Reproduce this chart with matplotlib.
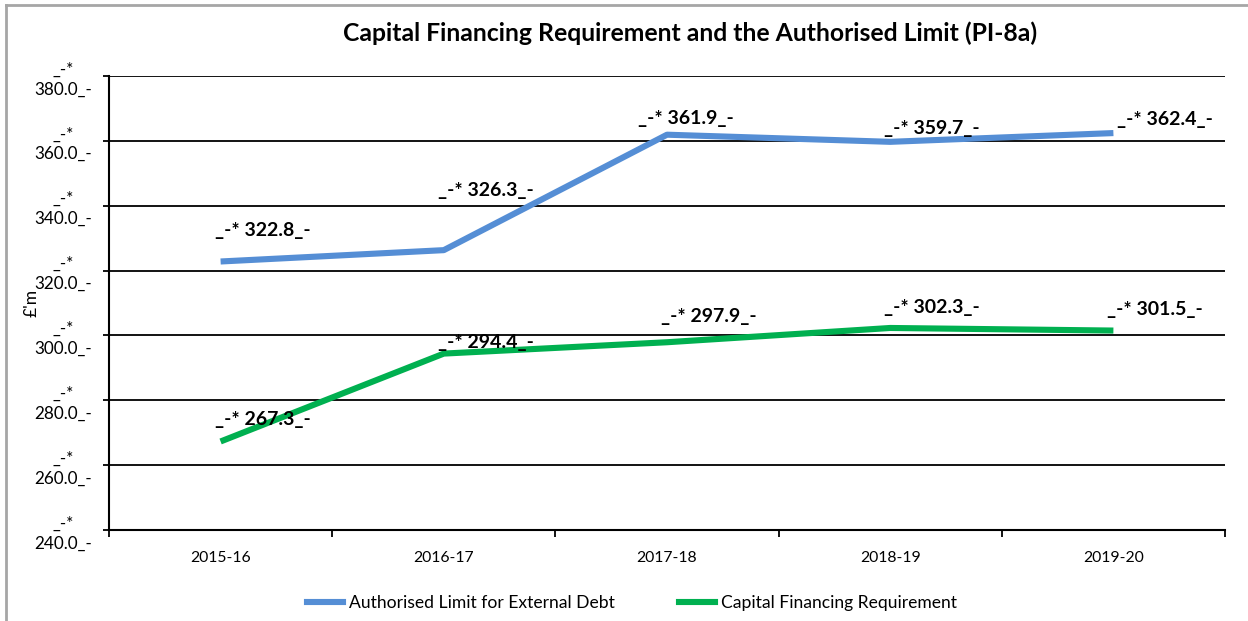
import matplotlib.pyplot as plt
from matplotlib.lines import Line2D

plt.rcParams['font.family'] = ['Lato', 'DejaVu Sans']

years = ['2015-16', '2016-17', '2017-18', '2018-19', '2019-20']
auth_limit = [322.8, 326.3, 361.9, 359.7, 362.4]
cfr = [267.3, 294.4, 297.9, 302.3, 301.5]
y_ticks = [240, 260, 280, 300, 320, 340, 360, 380]

# label offsets in pixels (left edge of label, vertical centre), hand placed like the excel chart
auth_off = [(-6, 31), (-6, 60), (-29, 16), (-6, 13), (4, 14)]
cfr_off = [(-6, 22), (-6, 11), (-6, 26), (-6, 20), (-6, 21)]

blue = '#558ED5'
green = '#00B050'

fig = plt.figure(figsize=(12.48, 6.21), dpi=100)
ax = fig.add_axes([109 / 1248, 1 - 530 / 621, 1116 / 1248, 454 / 621])

x = list(range(len(years)))
ax.plot(x, auth_limit, color=blue, lw=4.4, solid_capstyle='butt', zorder=3)
ax.plot(x, cfr, color=green, lw=4.4, solid_capstyle='butt', zorder=3)

for xi, v, off in zip(x, auth_limit, auth_off):
    ax.annotate(f'_-* {v:.1f}_-', (xi, v), xytext=off, textcoords='offset pixels',
                ha='left', va='center', fontsize=14, fontweight='bold', zorder=4)
for xi, v, off in zip(x, cfr, cfr_off):
    ax.annotate(f'_-* {v:.1f}_-', (xi, v), xytext=off, textcoords='offset pixels',
                ha='left', va='center', fontsize=14, fontweight='bold', zorder=4)

ax.set_xlim(-0.5, len(years) - 0.5)
ax.set_ylim(240, 380)
ax.set_yticks(y_ticks)
ax.set_yticklabels([f'_-*\n{t:.1f}_-' for t in y_ticks], fontsize=12.3,
                   multialignment='center', linespacing=1.3)
ax.yaxis.grid(True, color='black', lw=1.3)
ax.set_axisbelow(True)

# category ticks sit between the labels
ax.set_xticks([i - 0.5 for i in range(len(years) + 1)])
ax.set_xticklabels([])
ax.set_xticks(x, minor=True)
ax.set_xticklabels(years, minor=True, fontsize=11.3)
ax.tick_params(axis='x', which='major', length=5, width=1.3, direction='out')
ax.tick_params(axis='x', which='minor', length=0, pad=15)
ax.tick_params(axis='y', length=4, width=1.3, pad=8)

for s in ['top', 'right']:
    ax.spines[s].set_visible(False)
for s in ['left', 'bottom']:
    ax.spines[s].set_linewidth(1.5)

ax.set_ylabel("£'m", fontsize=12.5, labelpad=2)
ax.yaxis.set_label_coords(-0.062, 0.5)

fig.text(690 / 1248, 1 - 33 / 621, 'Capital Financing Requirement and the Authorised Limit (PI-8a)',
         ha='center', va='center', fontsize=17.8, fontweight='bold')

handles = [Line2D([], [], color=blue, lw=4.4), Line2D([], [], color=green, lw=4.4)]
fig.legend(handles, ['Authorised Limit for External Debt', 'Capital Financing Requirement'],
           loc='center', bbox_to_anchor=(632 / 1248, 1 - 603 / 621), ncol=2, frameon=False,
           fontsize=12.6, handlelength=2.05, handletextpad=0.35, columnspacing=3.7)

# chart area border (only the top and left edges are in view)
fig.add_artist(Line2D([6 / 1248, 6 / 1248], [0, 1 - 5 / 621], color='#a6a6a6', lw=2,
                      transform=fig.transFigure))
fig.add_artist(Line2D([6 / 1248, 1], [1 - 5 / 621, 1 - 5 / 621], color='#a6a6a6', lw=2,
                      transform=fig.transFigure))

fig.savefig('out.png', dpi=100)
